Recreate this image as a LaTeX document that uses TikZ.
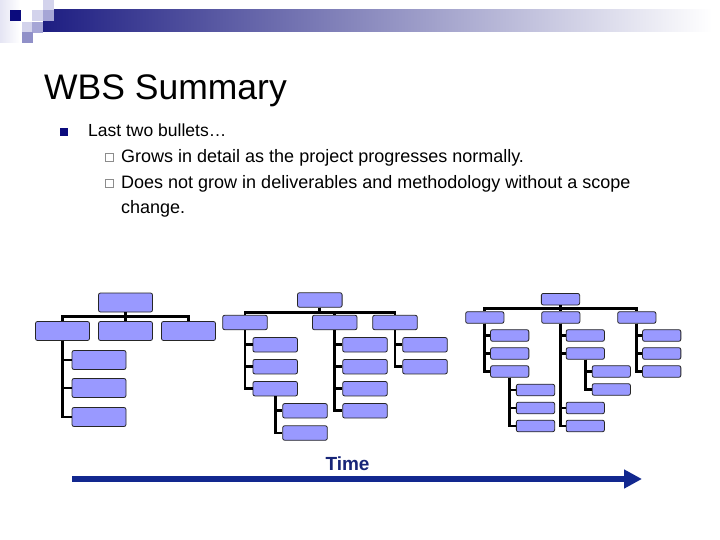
\documentclass[tikz,border=0pt]{standalone}
\usepackage{fontspec}
\setmainfont{Liberation Sans}
\usepackage{tikz}
\usetikzlibrary{arrows.meta,positioning,calc}
\definecolor{boxfill}{HTML}{9999FF}
\definecolor{navy}{HTML}{0B0B7D}
\definecolor{barstart}{HTML}{1E1E82}
\definecolor{barmid}{RGB}{160,160,186}
\definecolor{sqlight}{HTML}{D3D3EC}
\definecolor{sqmid}{HTML}{A6A6D6}
\definecolor{sqdark}{HTML}{9090C8}
\definecolor{timeblue}{HTML}{12288F}
\definecolor{timetext}{HTML}{172578}

\tikzset{
  wbsbox/.style={draw=black!85, fill=boxfill, rounded corners=2pt, line width=0.8pt, inner sep=0pt},
  boxone/.style={wbsbox, minimum width=54pt, minimum height=19pt},
  boxtwo/.style={wbsbox, minimum width=44.6pt, minimum height=14.5pt},
  boxthree/.style={wbsbox, minimum width=38.3pt, minimum height=11.6pt},
  wbslink/.style={line width=2.8pt, black},
  txt/.style={anchor=base west, inner sep=0pt},
}

\begin{document}
\begin{tikzpicture}[x=1pt, y=-1pt]
  \useasboundingbox (0,0) rectangle (720,540);
  \fill[white] (0,0) rectangle (720,540);

  % header band
  \shade[left color=sqlight!60, right color=white] (0,0) rectangle (20,43);
  \shade[left color=barstart, middle color=barmid, right color=white] (43,10) rectangle (712,32);
  \foreach \xa/\ya/\c in {10/10/navy, 32/10/sqlight, 43/0/sqlight, 43/10/sqmid, 22/21.7/sqlight, 32/21.7/sqmid, 22/32/sqdark}{
    \fill[\c] (\xa,\ya) rectangle ++(11,11);
  }

  % title and bullets
  \node[txt, font=\fontsize{35.5}{42}\selectfont] (title) at (44,100) {WBS Summary};
  \node[fill=navy, minimum size=8pt, inner sep=0pt] (b0) at (64,132) {};
  \node[txt, font=\fontsize{17.5}{21}\selectfont] (l0) at (88,137) {Last two bullets…};
  \foreach \i/\y/\l in {1/163/{Grows in detail as the project progresses normally.}, 2/189/{Does not grow in deliverables and methodology without a scope}}{
    \node[draw=black!45, line width=0.6pt, minimum size=7.5pt, inner sep=0pt] (b\i) at (109.5,\y-5.7) {};
    \node[txt, font=\fontsize{18}{22}\selectfont] (l\i) at (121,\y) {\l};
  }
  \node[txt, font=\fontsize{18}{22}\selectfont] (l3) at (121,214) {change.};

  % first chart
  \node[boxone] (t1r) at (125.5,302.5) {};
  \foreach \n/\x in {a/62.5, b/125.5, c/188.5}{
    \node[boxone] (t1\n) at (\x,331) {};
    \draw[wbslink] (t1r.south) -- ++(0,3.8) -| (t1\n.north);
  }
  \foreach \i/\y in {1/360, 2/388, 3/417}{
    \node[boxone] (t1a\i) at (99,\y) {};
    \draw[wbslink] (t1a.south) |- (t1a\i.west);
  }

  % second chart
  \node[boxtwo] (t2r) at (319.8,300) {};
  \foreach \n/\x in {a/245, b/334.7, c/395}{
    \node[boxtwo] (t2\n) at (\x,322.5) {};
    \draw[wbslink] (t2r.south) -- ++(0,4.5) -| (t2\n.north);
  }
  \foreach \n/\x/\ys in {a/275.2/{1/344.8,2/366.7,3/388.7}, b/365/{1/344.8,2/366.7,3/388.7,4/410.8}, c/425/{1/344.8,2/366.7}}{
    \foreach \i/\y in \ys{
      \node[boxtwo] (t2\n\i) at (\x,\y) {};
      \draw[wbslink] (t2\n.south) |- (t2\n\i.west);
    }
  }
  \foreach \i/\y in {1/410.8, 2/433}{
    \node[boxtwo] (t2a3\i) at (305,\y) {};
    \draw[wbslink] (t2a3.south) |- (t2a3\i.west);
  }

  % third chart
  \node[boxthree] (t3r) at (560.5,299.2) {};
  \foreach \n/\x in {a/484.8, b/560.8, c/636.8}{
    \node[boxthree] (t3\n) at (\x,317.5) {};
    \draw[wbslink] (t3r.south) -- ++(0,2.7) -| (t3\n.north);
  }
  \foreach \n/\x/\ys in {a/509.7/{1/335.5,2/353.5,3/371.5}, b/585.3/{1/335.5,2/353.5,3/408,4/426}, c/661.7/{1/335.5,2/353.5,3/371.5}}{
    \foreach \i/\y in \ys{
      \node[boxthree] (t3\n\i) at (\x,\y) {};
      \draw[wbslink] (t3\n.south) |- (t3\n\i.west);
    }
  }
  \foreach \i/\y in {1/390, 2/408, 3/426}{
    \node[boxthree] (t3a3\i) at (535.5,\y) {};
    \draw[wbslink] (t3a3.south) |- (t3a3\i.west);
  }
  \foreach \i/\y in {1/371.5, 2/389.5}{
    \node[boxthree] (t3b2\i) at (611.3,\y) {};
    \draw[wbslink] (t3b2.south) |- (t3b2\i.west);
  }

  % time axis
  \coordinate (tstart) at (72,479);
  \coordinate (tend) at (642,479);
  \draw[timeblue, line width=5.5pt, -{Triangle[length=18pt, width=18pt]}] (tstart) -- (tend);
  \node[anchor=base, inner sep=0pt, text=timetext, font=\bfseries\fontsize{19}{23}\selectfont] (tlabel) at (347.5,470.7) {Time};
\end{tikzpicture}
\end{document}
